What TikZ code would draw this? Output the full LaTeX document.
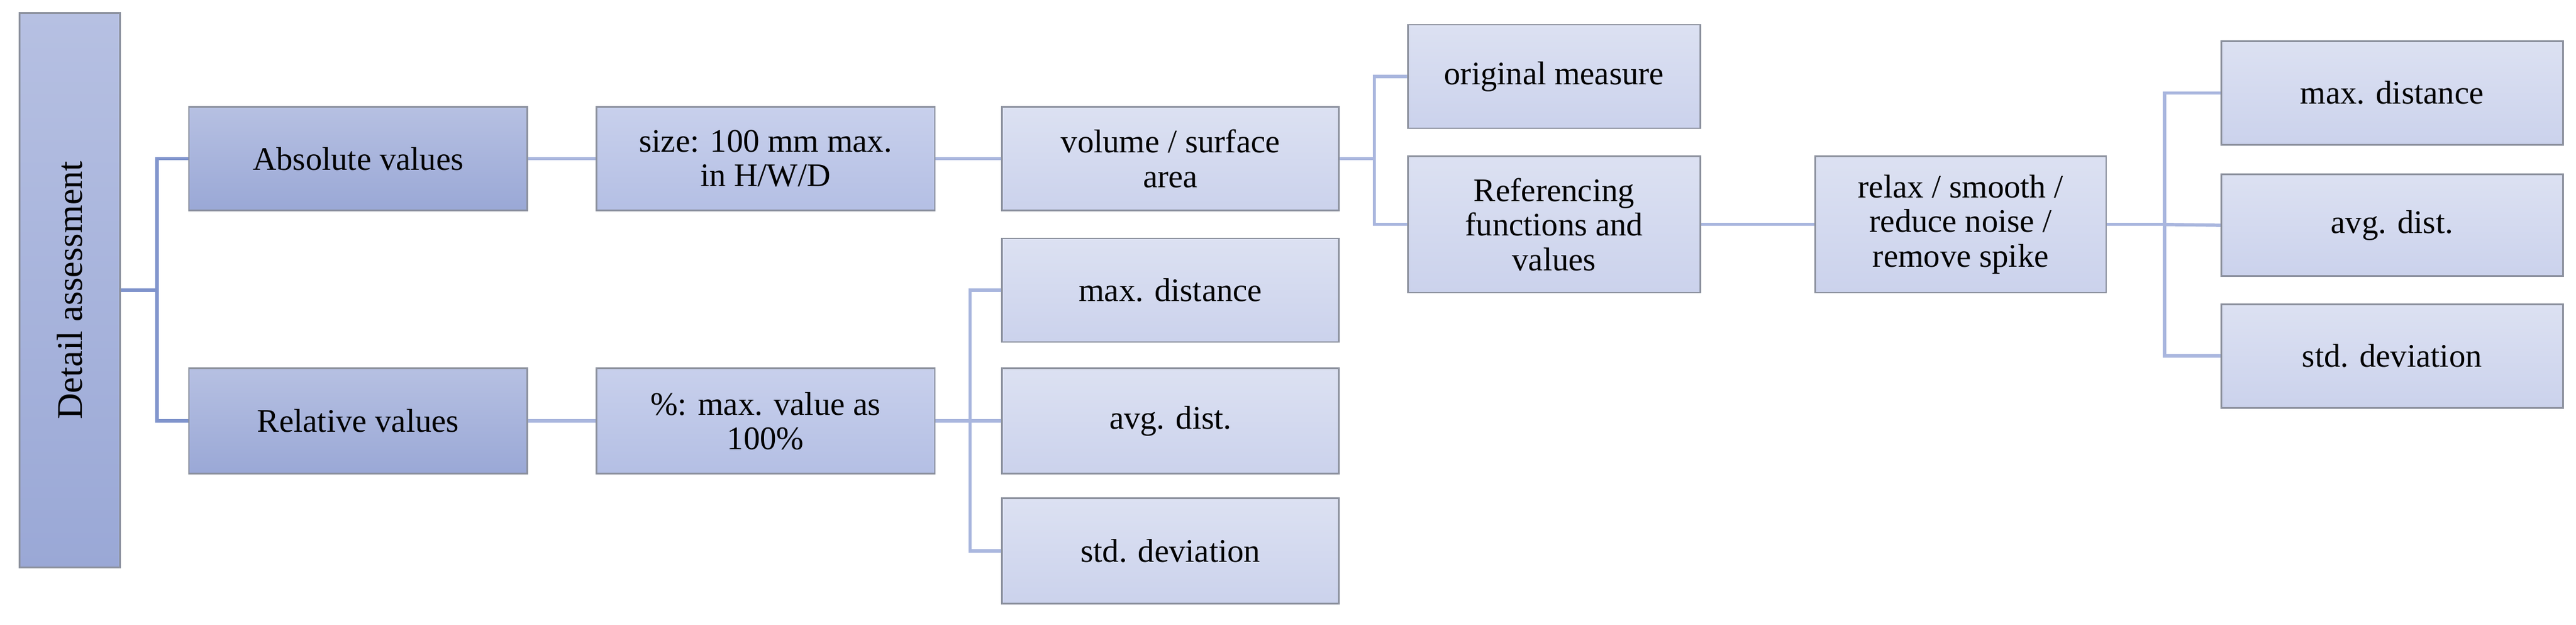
\documentclass[tikz,border=0pt]{standalone}
\usepackage{fontspec}
\setmainfont{Liberation Serif}
\definecolor{a1t}{HTML}{B6C0E2}\definecolor{a1b}{HTML}{9AA8D6}
\definecolor{a2t}{HTML}{C8D0EC}\definecolor{a2b}{HTML}{B4BFE4}
\definecolor{a3t}{HTML}{DCE1F2}\definecolor{a3b}{HTML}{CBD2EC}
\definecolor{brd}{HTML}{8C919E}\definecolor{lnl}{HTML}{A9B6DE}\definecolor{lnd}{HTML}{8094CC}
\begin{document}
\begin{tikzpicture}[x=1pt,y=1pt,
 bx/.style={draw=brd, line width=1pt, inner sep=2pt, align=center, font=\fontsize{20}{21}\selectfont, text=black},
 l1/.style={bx, top color=a1t, bottom color=a1b},
 l2/.style={bx, top color=a2t, bottom color=a2b},
 l3/.style={bx, top color=a3t, bottom color=a3b},
 cn/.style={draw=lnl, line width=2pt},
 cd/.style={draw=lnd, line width=2pt}]
\useasboundingbox (0,0) rectangle (1568,380);
\def\B#1#2#3#4#5#6{\node[#1, minimum width=#4, minimum height=#5] (#2) at (#3) {#6};}
\node[l1, minimum width=337, minimum height=61, rotate=90, font=\fontsize{22}{22}\selectfont] (det) at (42.5,203.5) {Detail assessment};
\B{l1}{abs}{218,283.5}{206}{63}{Absolute values}
\B{l1}{rel}{218,124}{206}{64}{Relative values}
\B{l2}{size}{466,283.5}{206}{63}{size: 100 mm max.\\in H/W/D}
\B{l2}{pct}{466,124}{206}{64}{\%: max. value as\\100\%}
\B{l3}{vol}{712.5,283.5}{205}{63}{volume / surface\\area}
\B{l3}{m1}{712.5,203.5}{205}{63}{max. distance}
\B{l3}{a1}{712.5,124}{205}{64}{avg. dist.}
\B{l3}{s1}{712.5,45}{205}{64}{std. deviation}
\B{l3}{orig}{946,333.5}{178}{63}{original measure}
\B{l3}{ref}{946,243.5}{178}{83}{Referencing\\functions and\\values}
\B{l3}{rlx}{1193.5,243.5}{177}{83}{\fontsize{20}{17}\selectfont relax / smooth /\\reduce noise /\\remove spike}
\B{l3}{m2}{1456,323.5}{208}{63}{max. distance}
\B{l3}{a2}{1456,243}{208}{62}{avg. dist.}
\B{l3}{s2}{1456,163.5}{208}{63}{std. deviation}
\draw[cd] (det.south) -- ++(22,0) coordinate (j0);
\draw[cd] (abs.west) -| (j0) |- (rel.west);
\draw[cn] (abs) -- (size);
\draw[cn] (rel) -- (pct);
\draw[cn] (size) -- (vol);
\draw[cn] (pct.east) -- ++(21,0) coordinate (j1);
\draw[cn] (m1.west) -| (j1) |- (s1.west);
\draw[cn] (j1) -- (a1.west);
\draw[cn] (vol.east) -- ++(21,0) coordinate (j2);
\draw[cn] (orig.west) -| (j2) |- (ref.west);
\draw[cn] (ref) -- (rlx);
\draw[cn] (rlx.east) -- ++(35,0) coordinate (j3);
\draw[cn] (m2.west) -| (j3) |- (s2.west);
\draw[cn] (j3) -- (a2.west);
\end{tikzpicture}
\end{document}
